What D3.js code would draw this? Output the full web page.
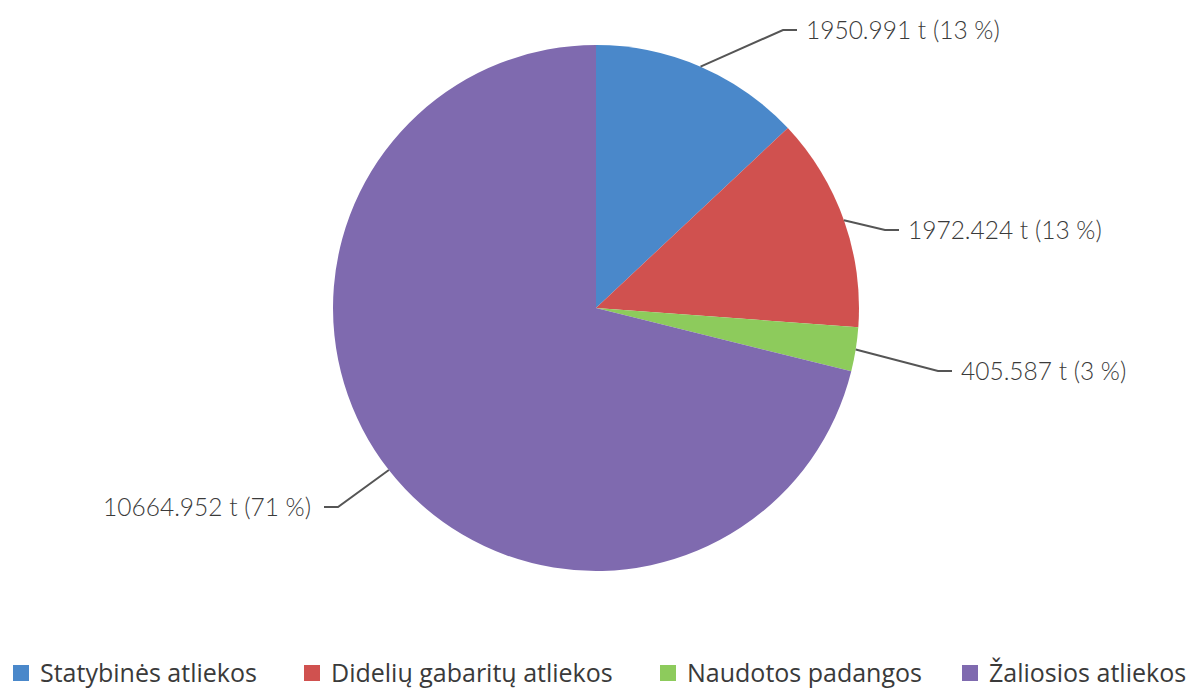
<!DOCTYPE html>
<html lang="lt">
<head>
<meta charset="utf-8">
<title>Atliekos</title>
<script src="https://d3js.org/d3.v7.min.js"></script>
<style>
  body { margin: 0; background: #fff; }
  .lbl { font-family: Lato, "Open Sans", sans-serif; font-weight: 300; font-size: 24.5px; fill: #3a3a3a; }
  .leg { font-family: "Open Sans", "Noto Sans", sans-serif; font-weight: 400; font-size: 25px; fill: #3a3a3a; }
</style>
</head>
<body>
<div class="chart"></div>
<script>
// data
const categories = ["Statybinės atliekos", "Didelių gabaritų atliekos", "Naudotos padangos", "Žaliosios atliekos"];
const values = [1950.991, 1972.424, 405.587, 10664.952];
const percents = [13, 13, 3, 71];
const colors = ["#4a88ca", "#d0514f", "#8dcb5c", "#7f6aaf"];

const width = 1196, height = 690;
const cx = 596, cy = 308, radius = 263;

const svg = d3.select('.chart')
    .append('svg')
    .attr('width', width)
    .attr('height', height);

const data = categories.map((c, i) => ({name: c, value: values[i], pct: percents[i], color: colors[i]}));

const pie = d3.pie().sort(null).value(d => d.value);
const arcs = pie(data);
const arc = d3.arc().innerRadius(0).outerRadius(radius);

const g = svg.append('g').attr('transform', `translate(${cx},${cy})`);

g.selectAll('path')
    .data(arcs)
    .enter()
    .append('path')
    .attr('d', arc)
    .attr('fill', d => d.data.color);

// leader line elbows (relative to centre), tuned by eye
const elbows = [
    {dx: 187, dy: -278, side: 1},
    {dx: 289, dy: -78, side: 1},
    {dx: 342, dy: 63, side: 1},
    {dx: -258, dy: 199, side: -1}
];

arcs.forEach((a, i) => {
    const mid = (a.startAngle + a.endAngle) / 2;
    const x0 = Math.sin(mid) * radius, y0 = -Math.cos(mid) * radius;
    const e = elbows[i];
    const x2 = e.dx + e.side * 14;
    g.append('polyline')
        .attr('points', `${x0},${y0} ${e.dx},${e.dy} ${x2},${e.dy}`)
        .attr('fill', 'none')
        .attr('stroke', '#555')
        .attr('stroke-width', 2);
    g.append('text')
        .attr('class', 'lbl')
        .attr('x', x2 + e.side * (e.side > 0 ? 9 : 13))
        .attr('y', e.dy)
        .attr('dy', '0.35em')
        .attr('text-anchor', e.side > 0 ? 'start' : 'end')
        .text(`${a.data.value.toFixed(3)} t (${a.data.pct} %)`);
});

// legend
const legX = [13, 304, 660, 962];
const leg = svg.selectAll('.legItem')
    .data(data)
    .enter()
    .append('g')
    .attr('transform', (d, i) => `translate(${legX[i]},673)`);
leg.append('rect')
    .attr('x', 0).attr('y', -8)
    .attr('width', 16).attr('height', 16)
    .attr('fill', d => d.color);
leg.append('text')
    .attr('class', 'leg')
    .attr('x', 27)
    .attr('dy', '0.35em')
    .text(d => d.name);
</script>
</body>
</html>
